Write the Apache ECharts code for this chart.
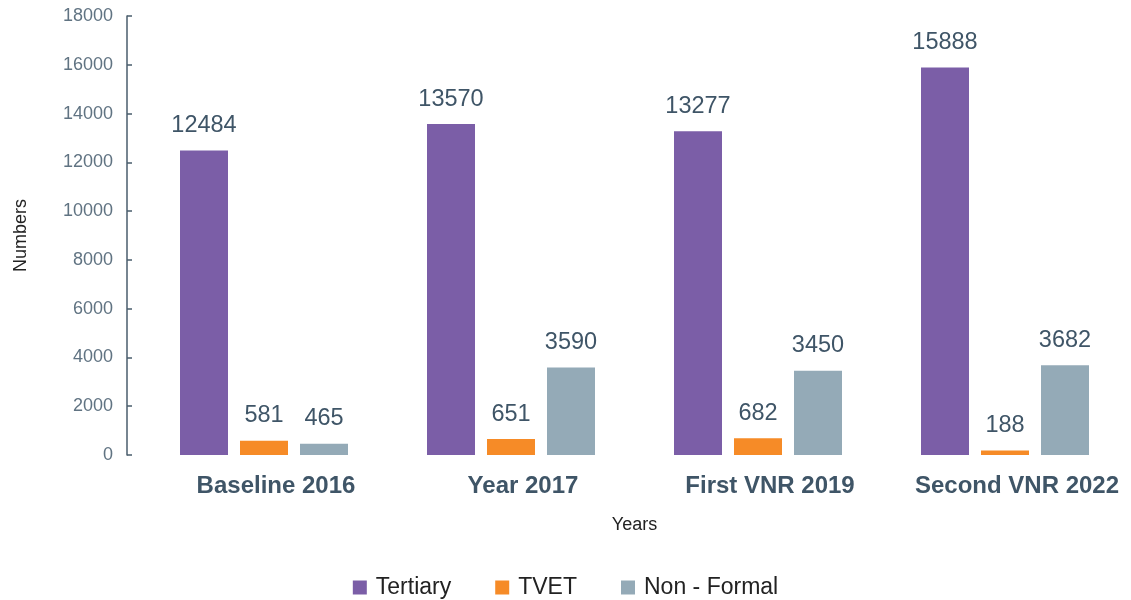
<!DOCTYPE html>
<html>
<head>
<meta charset="utf-8">
<script src="https://cdn.jsdelivr.net/npm/echarts@6/dist/echarts.min.js"></script>
<style>
  html, body { margin: 0; padding: 0; background: #fff; }
  #chart { width: 1131px; height: 600px; }
</style>
</head>
<body>
<div id="chart"></div>
<script>
const categories = ["Baseline 2016", "Year 2017", "First VNR 2019", "Second VNR 2022"]
const tertiary = [12484, 13570, 13277, 15888]
const tvet = [581, 651, 682, 188]
const nonFormal = [465, 3590, 3450, 3682]

const font = "'Liberation Sans', Arial, sans-serif"
const labelColor = "#3f5567"

const chart = echarts.init(document.getElementById("chart"))

const barLabel = {
  show: true,
  position: "top",
  distance: 13,
  fontFamily: font,
  fontSize: 23.5,
  color: labelColor,
}

const option = {
  animation: false,
  textStyle: { fontFamily: font },
  grid: {
    left: 140.5,
    right: 2.5,
    top: 16,
    bottom: 145,
  },
  legend: {
    data: ["Tertiary", "TVET", "Non - Formal"],
    top: 571,
    left: "center",
    icon: "rect",
    itemWidth: 14,
    itemHeight: 14,
    itemGap: 44,
    textStyle: {
      fontFamily: font,
      fontSize: 23,
      color: "#222",
      padding: [0, 0, 0, 4],
    },
  },
  xAxis: {
    type: "category",
    data: categories,
    name: "Years",
    nameLocation: "middle",
    nameGap: 61,
    nameTextStyle: { fontSize: 18, color: "#222", fontFamily: font },
    axisLine: { show: false },
    axisTick: { show: false },
    axisLabel: {
      interval: 0,
      fontFamily: font,
      fontSize: 24,
      fontWeight: "bold",
      color: labelColor,
      margin: 19,
      padding: [0, 0, 0, 24],
    },
  },
  yAxis: {
    type: "value",
    min: 0,
    max: 18000,
    interval: 2000,
    offset: 13.5,
    name: "Numbers",
    nameLocation: "middle",
    nameGap: 97,
    nameTextStyle: { fontSize: 18, color: "#222", fontFamily: font },
    axisLine: { show: true, lineStyle: { color: "#4a5d6c", width: 1.5 } },
    axisTick: { show: true, inside: true, length: 5, lineStyle: { color: "#4a5d6c", width: 1.5 } },
    splitLine: { show: false },
    axisLabel: {
      fontFamily: font,
      fontSize: 18,
      color: "#607382",
      margin: 14,
      formatter: (v) => String(v),
    },
  },
  series: [
    {
      name: "Tertiary",
      type: "bar",
      data: tertiary,
      barWidth: 48,
      barGap: "25%",
      itemStyle: { color: "#7b5ea7" },
      label: barLabel,
    },
    {
      name: "TVET",
      type: "bar",
      data: tvet,
      barWidth: 48,
      barGap: "25%",
      itemStyle: { color: "#f68b27" },
      label: barLabel,
    },
    {
      name: "Non - Formal",
      type: "bar",
      data: nonFormal,
      barWidth: 48,
      barGap: "25%",
      itemStyle: { color: "#94aab7" },
      label: barLabel,
    },
  ],
}

chart.setOption(option)
</script>
</body>
</html>
